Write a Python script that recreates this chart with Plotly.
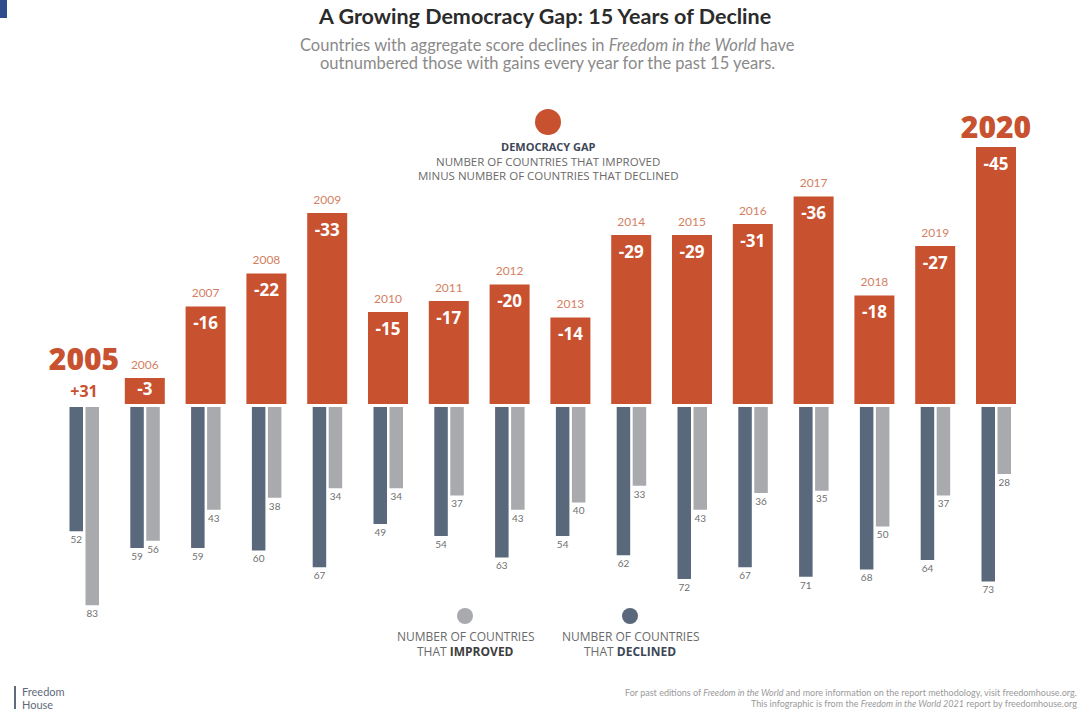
import plotly.graph_objects as go

# ---------------- data ----------------
years = list(range(2005, 2021))
improved = [83, 56, 43, 38, 34, 34, 37, 43, 40, 33, 43, 36, 35, 50, 37, 28]
declined = [52, 59, 59, 60, 67, 49, 54, 63, 54, 62, 72, 67, 71, 68, 64, 73]
gap = [31, -3, -16, -22, -33, -15, -17, -20, -14, -29, -29, -31, -36, -18, -27, -45]
gap_labels = [("+" if g > 0 else "") + str(g) for g in gap]

# ---------------- style ----------------
ORANGE = "#C8512F"
ORANGE_LIGHT = "#D47F63"
DARK = "#5A687C"
LIGHT = "#A9AAAE"
W, H = 1082, 712

PX_PER_YEAR = 60.8
X0_PX = 84
x_range = [2005 - X0_PX / PX_PER_YEAR, 2005 + (W - X0_PX) / PX_PER_YEAR]

# top panel (gap bars)
TOP_PX, BASE_PX, ZERO_PX, TOP_SCALE = 90, 404, 394.5, 5.5
top_range = [(ZERO_PX - BASE_PX) / TOP_SCALE, (ZERO_PX - TOP_PX) / TOP_SCALE]
pad = -top_range[0]
# bottom panel (counts)
BOT_TOP_PX, BOT_BOTTOM_PX, BOT_SCALE = 407, 650, 2.39
bot_range = [(BOT_BOTTOM_PX - BOT_TOP_PX) / BOT_SCALE, 0]


def u(px):
    return px / PX_PER_YEAR


def fx(px):
    return px / W


def fy(py):
    return 1 - py / H


fig = go.Figure()

# gap bars (only declines are drawn as bars)
neg_years = [y for y, g in zip(years, gap) if g < 0]
neg_h = [-g for g in gap if g < 0]
fig.add_trace(go.Bar(
    x=neg_years, y=[h + pad for h in neg_h], base=-pad, width=u(40),
    marker=dict(color=ORANGE, line=dict(width=0)), xaxis="x", yaxis="y",
    hoverinfo="skip", showlegend=False))

# declined / improved bars
fig.add_trace(go.Bar(
    x=years, y=declined, offset=-u(14.5), width=u(13.5),
    marker=dict(color=DARK, line=dict(width=0)), xaxis="x", yaxis="y2",
    hoverinfo="skip", showlegend=False))
fig.add_trace(go.Bar(
    x=years, y=improved, offset=u(1.5), width=u(13.5),
    marker=dict(color=LIGHT, line=dict(width=0)), xaxis="x", yaxis="y2",
    hoverinfo="skip", showlegend=False))

# count labels
fig.add_trace(go.Scatter(
    x=[y - u(7.75) for y in years], y=[d + 3.9 for d in declined],
    text=[str(d) for d in declined], mode="text",
    textfont=dict(family="Lato", size=10, color="#6f6f6f"),
    xaxis="x", yaxis="y2", hoverinfo="skip", showlegend=False))
fig.add_trace(go.Scatter(
    x=[y + u(8.25) for y in years], y=[i + 3.9 for i in improved],
    text=[str(i) for i in improved], mode="text",
    textfont=dict(family="Lato", size=10, color="#6f6f6f"),
    xaxis="x", yaxis="y2", hoverinfo="skip", showlegend=False))

# small year labels above bars (middle years)
mid = [(y, -g) for y, g in zip(years, gap) if g < 0 and y not in (years[0], years[-1])]
fig.add_trace(go.Scatter(
    x=[m[0] for m in mid], y=[m[1] + 2.2 for m in mid],
    text=[str(m[0]) for m in mid], mode="text",
    textfont=dict(family="Lato", size=12, color=ORANGE_LIGHT),
    xaxis="x", yaxis="y", hoverinfo="skip", showlegend=False))

# value labels inside bars
fig.add_trace(go.Scatter(
    x=neg_years, y=[max(h - 3.4, (h - pad) / 2) for h in neg_h],
    text=[lab for lab, g in zip(gap_labels, gap) if g < 0], mode="text",
    textfont=dict(family="Open Sans", size=17, color="white", weight="bold"),
    xaxis="x", yaxis="y", hoverinfo="skip", showlegend=False))

# first and last year: large labels
big_x, big_y, big_t = [], [], []
pos_x, pos_y, pos_t = [], [], []
for y, g, lab in zip(years, gap, gap_labels):
    if y in (years[0], years[-1]):
        if g < 0:
            big_x.append(y)
            big_y.append(-g + 3.0)
            big_t.append(str(y))
        else:
            big_x.append(y)
            big_y.append(5.9)
            big_t.append(str(y))
            pos_x.append(y)
            pos_y.append(0.3)
            pos_t.append(lab)
fig.add_trace(go.Scatter(
    x=big_x, y=big_y, text=big_t, mode="text",
    textfont=dict(family="Open Sans", size=30, color=ORANGE, weight=800),
    xaxis="x", yaxis="y", hoverinfo="skip", showlegend=False))
fig.add_trace(go.Scatter(
    x=pos_x, y=pos_y, text=pos_t, mode="text",
    textfont=dict(family="Open Sans", size=16, color=ORANGE, weight="bold"),
    xaxis="x", yaxis="y", hoverinfo="skip", showlegend=False))

# ---------------- annotations ----------------
ann = []


def text(x, y, s, size, color, family="Lato", xanchor="center", **kw):
    ann.append(dict(x=fx(x), y=fy(y), xref="paper", yref="paper", text=s,
                    showarrow=False, xanchor=xanchor, yanchor="middle",
                    font=dict(family=family, size=size, color=color), **kw))


text(544, 16, "<b>A Growing Democracy Gap: 15 Years of Decline</b>", 21.5, "#2b2b2b")
text(547, 45, "Countries with aggregate score declines in <i>Freedom in the World</i> have", 16.5, "#8a8a8a")
text(547, 63, "outnumbered those with gains every year for the past 15 years.", 16.5, "#8a8a8a")

text(548, 146, "<b>DEMOCRACY GAP</b>", 11, "#3d4757", family="Open Sans")
text(548, 161, "NUMBER OF COUNTRIES THAT IMPROVED", 11.5, "#6a6a6a", family="Open Sans")
text(548, 176, "MINUS NUMBER OF COUNTRIES THAT DECLINED", 11.5, "#6a6a6a", family="Open Sans")

text(465, 636, "NUMBER OF COUNTRIES", 12, "#6a6a6a", family="Open Sans")
text(465, 651, "THAT <b><span style='color:#3d3d3d'>IMPROVED</span></b>", 12, "#6a6a6a", family="Open Sans")
text(630, 636, "NUMBER OF COUNTRIES", 12, "#6a6a6a", family="Open Sans")
text(630, 651, "THAT <b><span style='color:#3d4757'>DECLINED</span></b>", 12, "#6a6a6a", family="Open Sans")

text(1079, 692, "For past editions of <i>Freedom in the World</i> and more information on the report methodology, visit freedomhouse.org.",
     9, "#9a9a9a", xanchor="right")
text(1079, 703, "This infographic is from the <i>Freedom in the World 2021</i> report by freedomhouse.org",
     9, "#9a9a9a", xanchor="right")

text(20, 691, "Freedom", 11, "#5f6b7b", xanchor="left")
text(20, 704, "House", 11, "#5f6b7b", xanchor="left")

shapes = [
    dict(type="circle", xref="paper", yref="paper", x0=fx(535), x1=fx(561), y0=fy(135), y1=fy(109),
         fillcolor=ORANGE, line=dict(width=0)),
    dict(type="circle", xref="paper", yref="paper", x0=fx(457), x1=fx(473), y0=fy(624), y1=fy(608),
         fillcolor=LIGHT, line=dict(width=0)),
    dict(type="circle", xref="paper", yref="paper", x0=fx(622), x1=fx(638), y0=fy(624), y1=fy(608),
         fillcolor=DARK, line=dict(width=0)),
    dict(type="rect", xref="paper", yref="paper", x0=fx(0), x1=fx(7), y0=fy(18), y1=fy(0),
         fillcolor="#2F4C8C", line=dict(width=0)),
    dict(type="rect", xref="paper", yref="paper", x0=fx(14), x1=fx(16), y0=fy(709), y1=fy(686),
         fillcolor="#5f6b7b", line=dict(width=0)),
]

fig.update_layout(
    width=W, height=H,
    margin=dict(l=0, r=0, t=0, b=0),
    paper_bgcolor="white", plot_bgcolor="rgba(0,0,0,0)",
    barmode="overlay",
    xaxis=dict(range=x_range, visible=False, fixedrange=True),
    yaxis=dict(domain=[fy(BASE_PX), fy(TOP_PX)], range=top_range, visible=False, anchor="x"),
    yaxis2=dict(domain=[fy(BOT_BOTTOM_PX), fy(BOT_TOP_PX)], range=bot_range, visible=False, anchor="x"),
    annotations=ann, shapes=shapes,
    showlegend=False,
)

fig.write_html("out.html")
